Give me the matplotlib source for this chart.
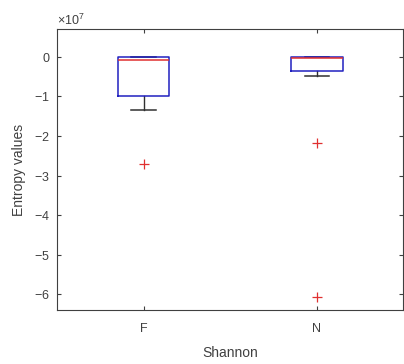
import matplotlib
matplotlib.use('Agg')
import matplotlib.pyplot as plt
from matplotlib.ticker import ScalarFormatter

# box statistics (values in entropy units)
labels = ['F', 'N']
q1 = [-1.0e7, -0.35e7]
med = [-0.08e7, -0.03e7]
q3 = [0.0, 0.0]
whislo = [-1.35e7, -0.48e7]
whishi = [0.0, 0.0]
fliers = [[-2.72e7], [-2.18e7, -6.07e7]]

plt.rcParams['font.family'] = ['Liberation Sans', 'DejaVu Sans']
plt.rcParams['mathtext.fontset'] = 'custom'
plt.rcParams['mathtext.rm'] = 'Liberation Sans'
plt.rcParams['axes.unicode_minus'] = False

fig = plt.figure(figsize=(4.04, 3.64), dpi=100)
ax = fig.add_axes([0.141, 0.148, 0.857, 0.772])

stats = []
for i in range(len(labels)):
    stats.append(dict(label=labels[i], q1=q1[i], med=med[i], q3=q3[i],
                      whislo=whislo[i], whishi=whishi[i], fliers=fliers[i]))

ax.bxp(stats, positions=[1, 2], widths=0.3,
       boxprops=dict(color='#2020c0', linewidth=1.1, zorder=3),
       medianprops=dict(color='#e03030', linewidth=1.1, zorder=4),
       whiskerprops=dict(color='#303030', linewidth=1.0, zorder=2),
       capprops=dict(color='#303030', linewidth=1.1, zorder=2),
       capwidths=0.14,
       flierprops=dict(marker='+', markeredgecolor='#e03030',
                       markersize=7, markeredgewidth=0.9, linestyle='none'))

ax.set_xlim(0.5, 2.5)
ax.set_ylim(-6.4e7, 0.7e7)
ax.set_yticks([-6e7, -5e7, -4e7, -3e7, -2e7, -1e7, 0])

fmt = ScalarFormatter(useMathText=True)
fmt.set_powerlimits((0, 0))
ax.yaxis.set_major_formatter(fmt)
ax.yaxis.get_offset_text().set_fontsize(9)
ax.yaxis.get_offset_text().set_color('#505050')

ax.tick_params(direction='in', top=True, right=True, length=3,
               labelsize=9, colors='#404040', width=0.8)
ax.tick_params(axis='x', pad=9)
ax.tick_params(axis='y', pad=5)
for s in ax.spines.values():
    s.set_color('#404040')
    s.set_linewidth(0.8)

ax.set_xlabel('Shannon', fontsize=10, color='#404040', labelpad=8)
ax.set_ylabel('Entropy values', fontsize=10, color='#404040', labelpad=6)

fig.savefig('out.png', dpi=100)
